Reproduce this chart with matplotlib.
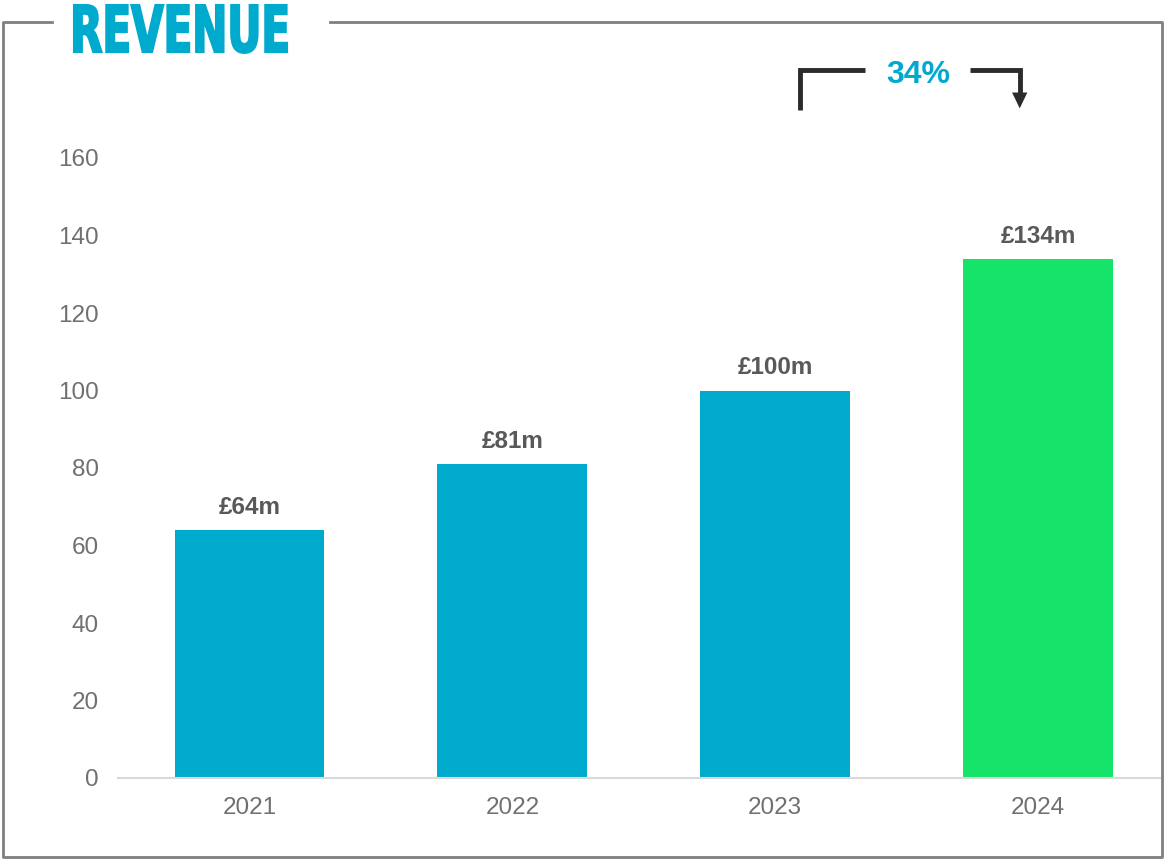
import matplotlib
matplotlib.use("Agg")
import matplotlib.pyplot as plt
from matplotlib.lines import Line2D
from matplotlib.textpath import TextPath
from matplotlib.patches import PathPatch
from matplotlib.font_manager import FontProperties
from matplotlib.transforms import Affine2D, IdentityTransform

years = ["2021", "2022", "2023", "2024"]
revenue = [64, 81, 100, 134]
labels = ["£64m", "£81m", "£100m", "£134m"]
growth = "34%"

cyan = "#00aacd"
green = "#16e46a"
colors = [cyan, cyan, cyan, green]

W, H = 1165, 859
fig = plt.figure(figsize=(W / 100, H / 100), dpi=100)
plt.rcParams["font.family"] = ["Liberation Sans", "DejaVu Sans"]

ax = fig.add_axes([118 / W, 1 - 778 / H, 1045 / W, 620 / H])
x = list(range(len(years)))
bars = ax.bar(x, revenue, width=0.57, color=colors)
ax.set_xlim(-0.5, 3.475)
ax.set_ylim(0, 160)
ax.set_yticks(range(0, 161, 20))
ax.set_xticks(x)
ax.set_xticklabels(years)
ax.tick_params(length=0, labelsize=17.5, labelcolor="#707070", pad=14)
ax.tick_params(axis="y", pad=14)
for s in ["top", "right", "left"]:
    ax.spines[s].set_visible(False)
ax.spines["bottom"].set_color("#d9d9d9")
ax.spines["bottom"].set_linewidth(1.5)

for b, lab in zip(bars, labels):
    ax.annotate(lab, (b.get_x() + b.get_width() / 2, b.get_height()),
                xytext=(0, 8), textcoords="offset points",
                ha="center", va="bottom", fontsize=17.5,
                fontweight="bold", color="#595959")

# growth bracket
dark = "#2b2b2b"
ax.plot([2.095, 2.095, 2.34], [172.3, 182.6, 182.6], color=dark, lw=3.5,
        clip_on=False, solid_capstyle="butt", solid_joinstyle="miter")
ax.plot([2.74, 2.93, 2.93], [182.6, 182.6, 176.5], color=dark, lw=3.5,
        clip_on=False, solid_capstyle="butt", solid_joinstyle="miter")
ax.fill([2.93 - 0.029, 2.93 + 0.029, 2.93], [176.9, 176.9, 172.8],
        color=dark, clip_on=False, lw=0)
ax.text(2.545, 181.3, growth, ha="center", va="center", fontsize=23,
        fontweight="bold", color=cyan, clip_on=False)

# outer frame with gap for title
gray = "#808080"
def fl(xs, ys):
    fig.add_artist(Line2D([v / W for v in xs], [1 - v / H for v in ys],
                          color=gray, lw=2, transform=fig.transFigure))
fl([52, 3, 3, 1162, 1162, 330], [22, 22, 857, 857, 22, 22])

# condensed heavy title
tp = TextPath((0, 0), "REVENUE", size=1,
              prop=FontProperties(family="DejaVu Sans", weight="bold"))
ext = tp.get_extents()
sx = 213 / ext.width
sy = 47 / 0.729
tr = Affine2D().translate(-ext.x0, 0).scale(sx, sy).translate(74, H - 52)
fig.add_artist(PathPatch(tp, transform=tr + IdentityTransform(),
                         facecolor=cyan, edgecolor=cyan, lw=1.5))

fig.savefig("out.png", dpi=100)
